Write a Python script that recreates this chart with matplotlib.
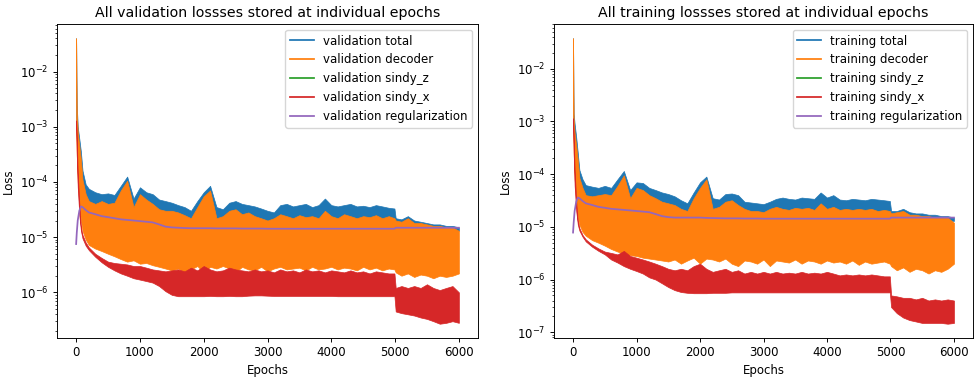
import matplotlib
matplotlib.use("Agg")
import matplotlib.pyplot as plt
import numpy as np

epochs = [0, 10, 25, 50, 75, 100, 150, 200] + list(range(300, 5000, 100)) + [4990, 5010] + list(range(5100, 6001, 100))

# ---------------- validation (values in units of 1e-6) ----------------
val_total_hi = [40000, 2500, 1000, 600, 350, 160, 90, 75, 65, 60, 62, 58, 85, 125, 50, 80, 65, 60, 48, 45,
                42, 38, 35, 30, 45, 65, 85, 35, 32, 42, 45, 40, 38, 36, 33, 30, 28, 38, 40, 36,
                38, 40, 35, 38, 50, 38, 36, 38, 40, 36, 37, 35, 38, 36, 34, 33, 22, 21, 24, 20,
                19, 18, 17, 17, 16, 16, 15]
val_total_lo = [1500, 900, 600, 300, 150, 80, 50, 35, 25, 24, 23, 22, 22, 21, 21, 20, 20, 20, 20, 20,
                19, 19, 19, 19, 19, 19, 19, 19, 19, 19, 19, 19, 19, 19, 19, 19, 19, 19, 19, 19,
                19, 19, 19, 19, 19, 19, 19, 19, 19, 19, 19, 19, 19, 19, 19, 19, 13, 13, 13, 13,
                13, 13, 13, 13, 13, 13, 13]
val_decoder_hi = [40000, 2000, 800, 450, 250, 110, 60, 45, 40, 45, 40, 42, 70, 105, 35, 60, 48, 40, 32, 30,
                  30, 28, 25, 22, 35, 55, 70, 22, 24, 30, 32, 26, 28, 24, 22, 20, 22, 26, 24, 22,
                  25, 23, 24, 22, 30, 24, 22, 26, 24, 22, 24, 23, 25, 22, 24, 22, 20, 19, 22, 18,
                  18, 17, 16, 16, 15, 15, 13]
val_decoder_lo = [800, 300, 100, 40, 20, 13, 9, 7.2, 6.2, 5.6, 5.0, 4.5, 4.0, 3.6, 3.8, 3.3, 3.4, 3.1, 2.9, 2.7,
                  2.5, 2.7, 2.3, 2.6, 3.0, 2.3, 2.9, 2.7, 3.0, 2.7, 2.3, 2.9, 2.6, 2.5, 2.9, 2.4, 2.7, 2.9, 2.6, 2.7,
                  2.8, 2.5, 2.9, 2.6, 2.7, 2.9, 2.6, 2.8, 2.7, 2.5, 2.9, 2.6, 2.8, 2.5, 2.7, 2.6, 2.3, 2.0, 2.2, 1.9,
                  2.1, 2.0, 1.8, 2.0, 1.9, 2.0, 2.2]
val_sindy_x_hi = [1300, 600, 150, 40, 15, 11, 8, 6.5, 5.0, 4.2, 3.6, 3.4, 3.3, 3.2, 3.0, 3.0, 2.8, 2.6, 2.5, 2.4,
                  2.5, 2.6, 2.4, 2.8, 2.5, 3.0, 2.6, 2.4, 2.5, 2.8, 2.6, 2.5, 2.4, 2.6, 2.4, 2.5, 2.3, 2.6, 2.4, 2.5,
                  2.3, 2.6, 2.4, 2.5, 2.3, 2.5, 2.4, 2.3, 2.5, 2.3, 2.4, 2.2, 2.4, 2.3, 2.2, 2.2, 1.2, 1.3, 1.2, 1.3,
                  1.2, 1.4, 1.2, 1.1, 1.2, 1.3, 1.0]
val_sindy_x_lo = [1200, 300, 80, 25, 13, 9.5, 7, 5.8, 4.4, 3.5, 2.9, 2.5, 2.2, 2.0, 1.8, 1.7, 1.6, 1.5, 1.3, 1.05,
                  0.9, 0.85, 0.85, 0.85, 0.85, 0.85, 0.86, 0.85, 0.85, 0.86, 0.85, 0.85, 0.87, 0.88, 0.88, 0.87, 0.86, 0.86, 0.86, 0.86,
                  0.86, 0.86, 0.86, 0.86, 0.86, 0.86, 0.85, 0.85, 0.85, 0.85, 0.85, 0.85, 0.85, 0.85, 0.85, 0.85, 0.45, 0.42, 0.4, 0.38,
                  0.35, 0.33, 0.3, 0.27, 0.28, 0.3, 0.28]
val_sindy_z = []
val_reg = [7.5, 12, 20, 30, 36, 35, 31, 28, 26, 24, 23, 22, 21, 20.5, 20, 19.5, 19, 18.5, 17, 15.5,
           15, 14.8, 14.6, 14.5, 14.5, 14.5, 14.5, 14.4, 14.4, 14.4, 14.4, 14.3, 14.3, 14.3, 14.3, 14.2, 14.2, 14.2, 14.2, 14.2,
           14.2, 14.2, 14.2, 14.2, 14.2, 14.2, 14.2, 14.2, 14.2, 14.2, 14.2, 14.2, 14.2, 14.2, 14.2, 14.2, 14.8, 14.8, 14.8, 14.8,
           14.8, 14.8, 14.8, 14.8, 14.8, 14.8, 14.8]

# ---------------- training (values in units of 1e-6) ----------------
tr_total_hi = [38000, 1400, 900, 500, 250, 120, 80, 62, 58, 55, 60, 55, 80, 115, 50, 70, 68, 55, 50, 45,
               42, 38, 32, 28, 45, 70, 90, 35, 33, 42, 43, 40, 30, 29, 28, 27, 30, 34, 36, 34,
               33, 36, 35, 34, 45, 36, 40, 33, 32, 34, 33, 32, 34, 33, 32, 31, 20, 20, 22, 19,
               18, 18, 17, 17, 16, 16, 15]
tr_total_lo = [1200, 700, 500, 250, 120, 70, 45, 35, 25, 22, 21, 20, 20, 19, 19, 18, 18, 18, 18, 18,
               18, 18, 18, 18, 18, 18, 18, 17, 17, 17, 17, 17, 17, 17, 17, 17, 17, 17, 17, 17,
               17, 17, 17, 17, 17, 17, 17, 17, 17, 17, 17, 17, 17, 17, 17, 17, 13, 13, 13, 13,
               13, 13, 13, 13, 13, 13, 13]
tr_decoder_hi = [38000, 1100, 600, 350, 180, 85, 55, 40, 38, 40, 42, 40, 60, 95, 35, 55, 50, 40, 35, 30,
                 28, 26, 22, 20, 35, 55, 80, 22, 24, 30, 32, 26, 22, 20, 20, 19, 22, 24, 22, 21,
                 23, 22, 23, 21, 28, 22, 24, 21, 22, 21, 22, 21, 22, 20, 21, 20, 18, 19, 20, 17,
                 17, 16, 16, 15, 15, 15, 12]
tr_decoder_lo = [700, 250, 80, 30, 15, 11, 8, 6.8, 5.6, 5.0, 4.4, 3.8, 3.4, 3.1, 2.9, 2.8, 2.6, 2.5, 2.4, 2.3,
                 2.2, 2.4, 2.0, 2.3, 2.6, 2.0, 2.5, 2.4, 2.2, 2.5, 2.0, 1.8, 2.3, 2.2, 2.0, 2.4, 1.8, 2.3, 2.2, 2.1,
                 2.4, 2.0, 2.3, 2.2, 2.0, 2.3, 2.1, 2.2, 2.0, 2.3, 1.9, 2.2, 2.0, 2.1, 2.2, 2.0, 1.8, 1.5, 1.7, 1.4,
                 1.6, 1.5, 1.3, 1.5, 1.4, 1.6, 2.0]
tr_sindy_x_hi = [1150, 500, 120, 30, 13, 9.5, 7, 5.8, 4.6, 3.9, 3.4, 3.2, 3.0, 3.5, 2.8, 2.6, 2.4, 2.2, 2.0, 1.8,
                 1.6, 1.5, 1.6, 1.5, 1.8, 2.0, 1.6, 1.4, 1.5, 1.6, 1.4, 1.5, 1.3, 1.4, 1.3, 1.4, 1.3, 1.4, 1.3, 1.35,
                 1.3, 1.4, 1.3, 1.35, 1.3, 1.4, 1.3, 1.2, 1.25, 1.2, 1.25, 1.2, 1.25, 1.2, 1.15, 1.15, 0.5, 0.48, 0.45, 0.45,
                 0.42, 0.45, 0.4, 0.42, 0.4, 0.42, 0.4]
tr_sindy_x_lo = [1100, 250, 60, 20, 11, 8.5, 6.5, 5.3, 4.2, 3.5, 3.0, 2.4, 2.1, 1.8, 1.6, 1.45, 1.3, 1.1, 1.0, 0.85,
                 0.72, 0.63, 0.58, 0.56, 0.55, 0.55, 0.55, 0.56, 0.56, 0.56, 0.57, 0.57, 0.57, 0.57, 0.57, 0.57, 0.57, 0.57, 0.57, 0.57,
                 0.57, 0.57, 0.57, 0.57, 0.57, 0.57, 0.57, 0.57, 0.57, 0.57, 0.57, 0.57, 0.57, 0.57, 0.57, 0.57, 0.3, 0.23, 0.19, 0.17,
                 0.16, 0.15, 0.15, 0.15, 0.15, 0.145, 0.15]
tr_sindy_z = []
tr_reg = [7.8, 12, 20, 30, 36, 35, 31, 28, 26, 24, 23, 22, 21.5, 21, 20.5, 20, 19.5, 19, 17.5, 16,
          15.3, 15, 15, 15, 15, 15, 14.8, 14.7, 14.6, 14.5, 14.5, 14.5, 14.4, 14.4, 14.4, 14.3, 14.3, 14.3, 14.3, 14.3,
          14.3, 14.3, 14.3, 14.3, 14.3, 14.3, 14.3, 14.3, 14.3, 14.3, 14.3, 14.3, 14.3, 14.3, 14.3, 14.3, 15, 15, 15, 15,
          15, 15, 15, 15, 15, 15, 15]

SCALE = 1e-6
k = 0.844  # reference was rendered at a reduced scale
plt.rcParams.update({
    "font.size": 10 * k,
    "axes.titlesize": 12 * k,
    "axes.linewidth": 0.8 * k,
    "xtick.major.size": 3.5 * k, "ytick.major.size": 3.5 * k,
    "xtick.minor.size": 2 * k, "ytick.minor.size": 2 * k,
    "xtick.major.width": 0.8 * k, "ytick.major.width": 0.8 * k,
    "xtick.minor.width": 0.6 * k, "ytick.minor.width": 0.6 * k,
    "xtick.major.pad": 3.5 * k, "ytick.major.pad": 3.5 * k,
    "axes.titlepad": 6 * k, "axes.labelpad": 4 * k,
    "lines.linewidth": 1.5 * k,
})


def draw(ax, prefix, total, decoder, sindy_x, sindy_z, reg, title):
    x = np.array(epochs)
    colors = ["C0", "C1", "C2", "C3", "C4"]
    names = ["total", "decoder", "sindy_z", "sindy_x", "regularization"]
    bands = {"total": total, "decoder": decoder, "sindy_x": sindy_x}
    z = 1
    for name, col in zip(names, colors):
        if name in bands:
            hi, lo = bands[name]
            ax.fill_between(x, np.array(lo) * SCALE, np.array(hi) * SCALE, color=col,
                            linewidth=0.5, edgecolor=col, zorder=z)
        z += 1
    ax.plot(x, np.array(reg) * SCALE, color="C4", linewidth=1.5 * k, zorder=6)
    handles = []
    for name, col in zip(names, colors):
        h, = ax.plot([], [], color=col, linewidth=1.5 * k, label=f"{prefix} {name}")
        handles.append(h)
    ax.set_yscale("log")
    ax.set_xlim(-300, 6300)
    ax.set_title(title)
    ax.set_xlabel("Epochs")
    ax.set_ylabel("Loss")
    ax.legend(handles=handles, loc="upper right")


fig = plt.figure(figsize=(9.74, 3.79), dpi=100)
ax1 = fig.add_axes([57 / 974, 41 / 379, 421 / 974, 314 / 379])
ax2 = fig.add_axes([554 / 974, 41 / 379, 419 / 974, 314 / 379])

draw(ax1, "validation", (val_total_hi, val_total_lo), (val_decoder_hi, val_decoder_lo),
     (val_sindy_x_hi, val_sindy_x_lo), val_sindy_z, val_reg,
     "All validation lossses stored at individual epochs")
draw(ax2, "training", (tr_total_hi, tr_total_lo), (tr_decoder_hi, tr_decoder_lo),
     (tr_sindy_x_hi, tr_sindy_x_lo), tr_sindy_z, tr_reg,
     "All training lossses stored at individual epochs")

fig.savefig("out.png", dpi=100)
